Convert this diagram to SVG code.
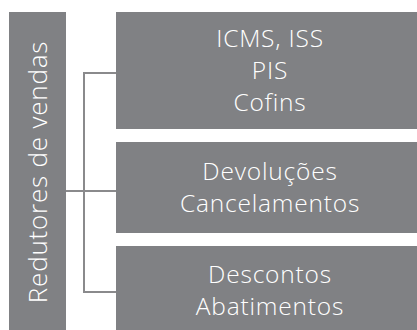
<svg xmlns="http://www.w3.org/2000/svg" width="417" height="330" viewBox="0 0 417 330">
<style>
.box{fill:#808184;}
.t{fill:#ffffff;font-family:"Open Sans","DejaVu Sans",sans-serif;font-weight:300;font-size:24.5px;letter-spacing:0.8px;text-anchor:middle;}
.conn{fill:none;stroke:#8a8a8c;stroke-width:2;}
</style>
<rect width="417" height="330" fill="#ffffff"/>
<g id="connectors">
<path class="conn" d="M116,73 H84 V292 H116"/>
<path class="conn" d="M66,191 H116"/>
</g>
<g id="root">
<rect class="box" x="9" y="12" width="57" height="318"/>
<text class="t" style="font-size:26px" transform="translate(47,172) rotate(-90)">Redutores de vendas</text>
</g>
<g id="taxes">
<rect class="box" x="116" y="12" width="301" height="117"/>
<text class="t" x="270" y="47">ICMS, ISS</text>
<text class="t" x="270" y="79">PIS</text>
<text class="t" x="270" y="111">Cofins</text>
</g>
<g id="returns">
<rect class="box" x="116" y="142" width="301" height="91"/>
<text class="t" x="270" y="180">Devoluções</text>
<text class="t" x="270" y="212">Cancelamentos</text>
</g>
<g id="discounts">
<rect class="box" x="116" y="246" width="301" height="84"/>
<text class="t" x="270" y="283">Descontos</text>
<text class="t" x="270" y="315">Abatimentos</text>
</g>
</svg>
